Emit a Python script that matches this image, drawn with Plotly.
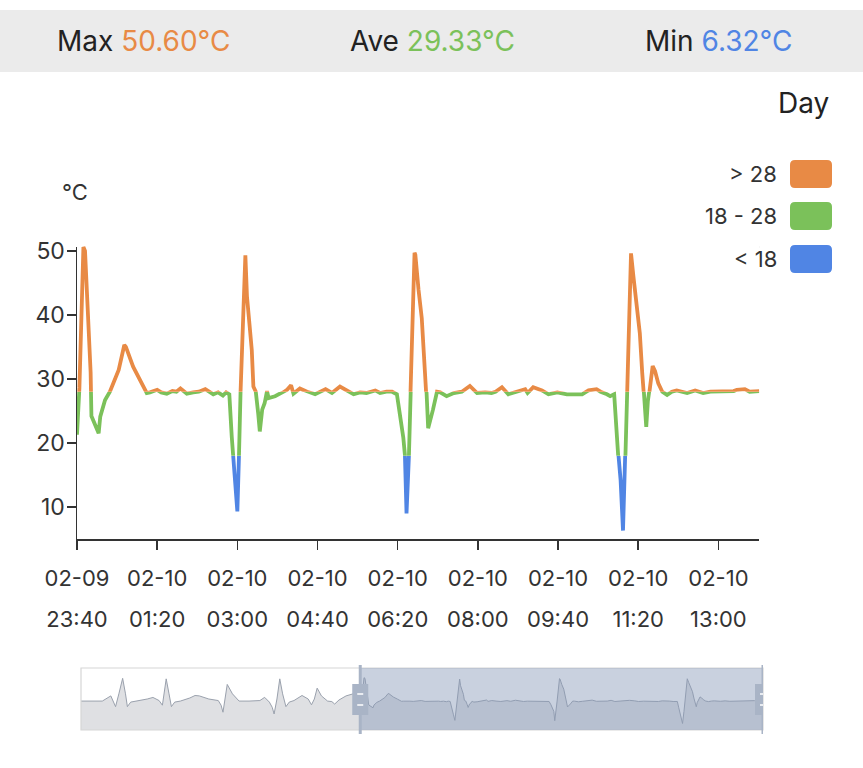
import plotly.graph_objects as go

# ---------------- data ----------------
times = [
    "2024-02-09 13:50", "2024-02-09 14:10", "2024-02-09 14:35", "2024-02-09 14:53", "2024-02-09 15:00",
    "2024-02-09 15:03", "2024-02-09 15:10", "2024-02-09 15:18", "2024-02-09 15:24", "2024-02-09 15:28",
    "2024-02-09 15:35", "2024-02-09 15:50", "2024-02-09 16:10", "2024-02-09 16:22", "2024-02-09 16:35",
    "2024-02-09 16:42", "2024-02-09 16:50", "2024-02-09 16:56", "2024-02-09 17:01", "2024-02-09 17:08",
    "2024-02-09 17:20", "2024-02-09 17:40", "2024-02-09 17:51", "2024-02-09 18:00", "2024-02-09 18:20",
    "2024-02-09 18:40", "2024-02-09 18:46", "2024-02-09 18:50", "2024-02-09 18:54", "2024-02-09 18:59",
    "2024-02-09 19:10", "2024-02-09 19:24", "2024-02-09 19:45", "2024-02-09 20:08", "2024-02-09 20:18",
    "2024-02-09 20:28", "2024-02-09 20:34", "2024-02-09 20:38", "2024-02-09 20:44", "2024-02-09 20:50",
    "2024-02-09 20:56", "2024-02-09 21:03", "2024-02-09 21:10", "2024-02-09 21:20", "2024-02-09 21:37",
    "2024-02-09 21:50", "2024-02-09 21:57", "2024-02-09 22:03", "2024-02-09 22:09", "2024-02-09 22:18",
    "2024-02-09 22:31", "2024-02-09 22:40", "2024-02-09 22:46", "2024-02-09 22:55", "2024-02-09 23:10",
    "2024-02-09 23:25", "2024-02-09 23:35",
    "2024-02-09 23:40", "2024-02-09 23:43", "2024-02-09 23:48", "2024-02-09 23:50", "2024-02-09 23:53",
    "2024-02-09 23:55", "2024-02-09 23:57", "2024-02-09 23:58",
    "2024-02-10 00:07", "2024-02-10 00:09", "2024-02-10 00:15", "2024-02-10 00:21", "2024-02-10 00:32",
    "2024-02-10 00:39", "2024-02-10 00:41", "2024-02-10 00:50", "2024-02-10 00:59", "2024-02-10 01:07",
    "2024-02-10 01:11", "2024-02-10 01:20", "2024-02-10 01:25", "2024-02-10 01:32", "2024-02-10 01:39",
    "2024-02-10 01:44", "2024-02-10 01:49", "2024-02-10 01:57", "2024-02-10 02:05", "2024-02-10 02:12",
    "2024-02-10 02:20", "2024-02-10 02:26", "2024-02-10 02:30", "2024-02-10 02:36", "2024-02-10 02:42",
    "2024-02-10 02:46", "2024-02-10 02:50", "2024-02-10 02:53", "2024-02-10 02:55", "2024-02-10 02:57",
    "2024-02-10 03:00", "2024-02-10 03:02", "2024-02-10 03:04", "2024-02-10 03:10", "2024-02-10 03:12",
    "2024-02-10 03:15", "2024-02-10 03:18", "2024-02-10 03:20", "2024-02-10 03:23", "2024-02-10 03:26",
    "2024-02-10 03:28", "2024-02-10 03:31", "2024-02-10 03:34", "2024-02-10 03:37", "2024-02-10 03:39",
    "2024-02-10 03:47", "2024-02-10 03:56", "2024-02-10 04:02", "2024-02-10 04:07", "2024-02-10 04:10",
    "2024-02-10 04:18", "2024-02-10 04:27", "2024-02-10 04:37", "2024-02-10 04:50", "2024-02-10 04:58",
    "2024-02-10 05:08", "2024-02-10 05:17", "2024-02-10 05:25", "2024-02-10 05:33", "2024-02-10 05:41",
    "2024-02-10 05:52", "2024-02-10 05:58", "2024-02-10 06:06", "2024-02-10 06:13", "2024-02-10 06:19",
    "2024-02-10 06:23", "2024-02-10 06:27", "2024-02-10 06:29", "2024-02-10 06:31", "2024-02-10 06:34",
    "2024-02-10 06:36", "2024-02-10 06:41", "2024-02-10 06:42", "2024-02-10 06:46", "2024-02-10 06:50",
    "2024-02-10 06:54", "2024-02-10 06:56", "2024-02-10 06:58", "2024-02-10 07:04", "2024-02-10 07:09",
    "2024-02-10 07:13", "2024-02-10 07:21", "2024-02-10 07:30", "2024-02-10 07:40", "2024-02-10 07:50",
    "2024-02-10 07:59", "2024-02-10 08:09", "2024-02-10 08:17", "2024-02-10 08:22", "2024-02-10 08:30",
    "2024-02-10 08:38", "2024-02-10 08:49", "2024-02-10 08:59", "2024-02-10 09:02", "2024-02-10 09:09",
    "2024-02-10 09:20", "2024-02-10 09:28", "2024-02-10 09:39", "2024-02-10 09:51", "2024-02-10 10:10",
    "2024-02-10 10:18", "2024-02-10 10:28", "2024-02-10 10:33", "2024-02-10 10:41", "2024-02-10 10:45",
    "2024-02-10 10:50", "2024-02-10 10:53", "2024-02-10 10:55", "2024-02-10 10:58", "2024-02-10 11:01",
    "2024-02-10 11:04", "2024-02-10 11:06", "2024-02-10 11:11", "2024-02-10 11:14", "2024-02-10 11:18",
    "2024-02-10 11:22", "2024-02-10 11:25", "2024-02-10 11:27", "2024-02-10 11:30", "2024-02-10 11:32",
    "2024-02-10 11:34", "2024-02-10 11:38", "2024-02-10 11:41", "2024-02-10 11:45", "2024-02-10 11:50",
    "2024-02-10 11:56", "2024-02-10 12:02", "2024-02-10 12:08", "2024-02-10 12:21", "2024-02-10 12:31",
    "2024-02-10 12:41", "2024-02-10 12:50", "2024-02-10 13:06", "2024-02-10 13:19", "2024-02-10 13:23",
    "2024-02-10 13:33", "2024-02-10 13:39", "2024-02-10 13:51",
]

temps = [
    28.0, 27.8, 28.0, 33.0, 26.0,
    22.6, 35.0, 50.0, 35.0, 22.6,
    27.0, 28.0, 30.0, 31.5, 28.5,
    24.0, 49.5, 35.0, 22.6, 27.0,
    28.0, 31.0, 33.4, 33.0, 30.0,
    28.5, 24.0, 17.2, 30.0, 44.1,
    35.0, 28.0, 28.0, 28.5, 31.6,
    27.0, 22.0, 15.5, 30.0, 49.5,
    35.0, 22.6, 27.0, 28.5, 33.4,
    30.0, 24.4, 30.0, 40.5, 33.0,
    28.0, 27.5, 25.1, 29.0, 33.0,
    35.0, 34.0,
    21.3, 28.6, 50.6, 50.0, 40.8,
    34.5, 31.0, 24.2,
    21.5, 24.1, 26.7, 28.0, 31.4,
    35.3, 35.0, 31.9, 29.8, 27.8,
    27.9, 28.3, 27.9, 27.7, 28.1,
    28.0, 28.5, 27.7, 27.9, 28.0,
    28.4, 27.9, 27.6, 27.9, 27.4,
    27.9, 27.6, 21.0, 18.0, 14.7,
    9.3, 17.9, 28.0, 49.3, 42.9,
    38.7, 34.5, 28.8, 28.0, 24.6,
    21.8, 25.2, 26.2, 28.1, 27.0,
    27.3, 27.8, 28.3, 29.0, 27.7,
    28.5, 28.0, 27.6, 28.4, 27.8,
    28.8, 28.1, 27.6, 27.9, 27.8,
    28.2, 27.8, 28.0, 28.0, 27.6,
    24.4, 20.8, 18.1, 9.0, 18.0,
    28.0, 49.7, 49.4, 43.9, 39.5,
    31.0, 27.8, 22.3, 25.2, 28.0,
    27.9, 27.3, 27.8, 28.0, 28.9,
    27.8, 27.9, 27.8, 28.0, 28.7,
    27.6, 28.0, 28.4, 27.8, 28.7,
    28.2, 27.6, 27.9, 27.6, 27.6,
    28.2, 28.4, 28.0, 27.6, 27.3,
    27.6, 21.5, 18.0, 14.2, 6.32,
    17.9, 28.0, 49.6, 46.0, 41.8,
    37.1, 30.9, 28.0, 22.5, 26.5,
    28.0, 32.0, 31.2, 29.3, 28.0,
    27.5, 28.0, 28.2, 27.8, 28.2,
    27.8, 28.0, 28.0, 28.1, 28.3,
    28.4, 28.0, 28.1,
]

# visible window of the main chart (data-zoom selection)
window_start = "2024-02-09 23:40"
window_end = "2024-02-10 13:51"

# header statistics as printed
stat_labels = ["Max", "Ave", "Min"]
stat_values = ["50.60°C", "29.33°C", "6.32°C"]

# visual-map pieces
piece_labels = ["> 28", "18 - 28", "< 18"]

# ---------------- styling ----------------
ORANGE = "#E88A45"
GREEN = "#7BC15A"
BLUE = "#5085E4"
piece_colors = [ORANGE, GREEN, BLUE]
FONT = "Inter"
TXT = "#333333"

W, H = 863, 768
PL, PR, PT, PB = 77, 766, 240, 736        # paper extents in px


def fx(p):
    return (p - PL) / (PR - PL)


def fy(p):
    return (PB - p) / (PB - PT)


# main plot area (px)
MX0, MX1 = 77, 759.3
MY_TOP, MY_BOT = 247, 539
Y_MIN, Y_MAX = 5.0, 50.6


def vpix(v):
    return MY_BOT - (v - Y_MIN) / (Y_MAX - Y_MIN) * (MY_BOT - MY_TOP)


def pix2v(p):
    return Y_MIN + (MY_BOT - p) / (MY_BOT - MY_TOP) * (Y_MAX - Y_MIN)


fig = go.Figure()

# invisible traces to anchor main subplot and the second label axis
fig.add_trace(go.Scatter(x=times, y=temps, mode="none", hoverinfo="skip",
                         showlegend=False, xaxis="x", yaxis="y"))
fig.add_trace(go.Scatter(x=times, y=temps, mode="none", hoverinfo="skip",
                         showlegend=False, xaxis="x3", yaxis="y"))

# band subplots: same line clipped into each value band
band_axes = ["y2", "y5", "y6"]     # blue, green, orange
band_cols = [BLUE, GREEN, ORANGE]
for ax, col in zip(band_axes, band_cols):
    fig.add_trace(go.Scatter(x=times, y=temps, mode="lines",
                             line=dict(color=col, width=3.8),
                             hoverinfo="skip", showlegend=False,
                             xaxis="x", yaxis=ax))

# slider thumbnail
fig.add_trace(go.Scatter(x=times, y=temps, mode="lines",
                         line=dict(color="#9aa1ad", width=1),
                         fill="tozeroy", fillcolor="#dfe0e3",
                         hoverinfo="skip", showlegend=False,
                         xaxis="x2", yaxis="y4"))

main_dom_y = [fy(MY_BOT), fy(MY_TOP)]
xdom = [fx(MX0), fx(MX1)]
d18 = fy(vpix(18))
d28 = fy(vpix(28))

axis_common = dict(fixedrange=True)
DT = 100 * 60 * 1000

fig.update_layout(
    width=W, height=H,
    margin=dict(l=PL, r=W - PR, t=PT, b=H - PB, pad=0),
    paper_bgcolor="white", plot_bgcolor="white",
    font=dict(family=FONT, color=TXT),
    showlegend=False,
    xaxis=dict(domain=xdom, type="date", range=[window_start, window_end],
               anchor="y", tick0=window_start, dtick=DT,
               tickformat="%m-%d", ticks="outside", ticklen=9, tickwidth=1.5,
               tickcolor="#333", showline=True, linecolor="#333", linewidth=1.5,
               showgrid=False, zeroline=False, ticklabelstandoff=10,
               tickfont=dict(size=22, color=TXT, family=FONT), **axis_common),
    xaxis3=dict(overlaying="x", matches="x", type="date", anchor="y",
                range=[window_start, window_end],
                tick0=window_start, dtick=DT, tickformat="%H:%M",
                ticks="outside", ticklen=9, tickcolor="rgba(0,0,0,0)",
                showline=False, showgrid=False, zeroline=False,
                ticklabelstandoff=52, side="bottom",
                tickfont=dict(size=22, color=TXT, family=FONT), **axis_common),
    yaxis=dict(domain=main_dom_y, range=[Y_MIN, Y_MAX], anchor="x",
               tick0=0, dtick=10, ticks="outside", ticklen=9, tickwidth=1.5,
               tickcolor="#333", showline=True, linecolor="#333", linewidth=1.5,
               showgrid=True, gridcolor="#cfcfcf", gridwidth=1.3, zeroline=False,
               ticklabelstandoff=-3,
               tickfont=dict(size=23, color=TXT, family=FONT), **axis_common),
    yaxis2=dict(domain=[main_dom_y[0], d18], range=[Y_MIN, 18], anchor="x",
                visible=False, **axis_common),
    yaxis5=dict(domain=[d18, d28], range=[18, 28], anchor="x",
                visible=False, **axis_common),
    yaxis6=dict(domain=[d28, 1.0], range=[28, pix2v(PT)], anchor="x",
                visible=False, **axis_common),
    xaxis2=dict(domain=[fx(81), fx(763)], type="date",
                range=[times[0], times[-1]], anchor="y4", visible=False,
                **axis_common),
    yaxis4=dict(domain=[fy(730), fy(668)], range=[0, 60], anchor="x2",
                visible=False, **axis_common),
)

shapes = []
# top grid line at axis max
shapes.append(dict(type="line", xref="x domain", yref="y domain", x0=0, x1=1,
                   y0=1, y1=1, line=dict(color="#cfcfcf", width=1.3), layer="below"))
# header band
shapes.append(dict(type="rect", xref="paper", yref="paper", x0=fx(0), x1=fx(W),
                   y0=fy(72), y1=fy(10), fillcolor="#ebebeb", line=dict(width=0),
                   layer="below"))


def rrect(x0, y0, x1, y1, r):
    # rounded rect in px -> paper path
    pts = [
        f"M {fx(x0 + r)},{fy(y0)}",
        f"L {fx(x1 - r)},{fy(y0)}",
        f"Q {fx(x1)},{fy(y0)} {fx(x1)},{fy(y0 + r)}",
        f"L {fx(x1)},{fy(y1 - r)}",
        f"Q {fx(x1)},{fy(y1)} {fx(x1 - r)},{fy(y1)}",
        f"L {fx(x0 + r)},{fy(y1)}",
        f"Q {fx(x0)},{fy(y1)} {fx(x0)},{fy(y1 - r)}",
        f"L {fx(x0)},{fy(y0 + r)}",
        f"Q {fx(x0)},{fy(y0)} {fx(x0 + r)},{fy(y0)} Z",
    ]
    return " ".join(pts)


legend_rows = [174, 216, 259]
for row, col in zip(legend_rows, piece_colors):
    shapes.append(dict(type="path", xref="paper", yref="paper",
                       path=rrect(790, row - 14, 832, row + 14, 5),
                       fillcolor=col, line=dict(width=0)))

# slider decorations
HANDLE = "#a9b4c6"
SL_TOP, SL_BOT = 668, 730


def sy(p):
    return (SL_BOT - p) / (SL_BOT - SL_TOP)


shapes.append(dict(type="rect", xref="x2 domain", yref="y4 domain", x0=0, x1=1,
                   y0=0, y1=1, fillcolor="rgba(0,0,0,0)",
                   line=dict(color="#d6d6d6", width=1.2), layer="above"))
shapes.append(dict(type="rect", xref="x2", yref="y4 domain", x0=window_start,
                   x1=window_end, y0=0, y1=1, fillcolor="rgba(135,152,185,0.45)",
                   line=dict(width=0), layer="above"))
for anchor in [window_start, window_end]:
    shapes.append(dict(type="line", xref="x2", yref="y4 domain", x0=anchor,
                       x1=anchor, y0=sy(734), y1=sy(665),
                       line=dict(color=HANDLE, width=3), layer="above"))
    shapes.append(dict(type="rect", xref="x2", xsizemode="pixel", xanchor=anchor,
                       x0=-8, x1=8, yref="y4 domain", y0=sy(715), y1=sy(684),
                       fillcolor=HANDLE, line=dict(width=0), layer="above"))
    for gy in [694, 705]:
        shapes.append(dict(type="line", xref="x2", xsizemode="pixel", xanchor=anchor,
                           x0=-3, x1=3, yref="y4 domain", y0=sy(gy), y1=sy(gy),
                           line=dict(color="white", width=1.5), layer="above"))

fig.update_layout(shapes=shapes)

ann = []
stat_x = [143, 432, 719]
for lab, val, col, sx in zip(stat_labels, stat_values, piece_colors, stat_x):
    ann.append(dict(xref="paper", yref="paper", x=fx(sx), y=fy(41),
                    text=f"{lab} <span style='color:{col}'>{val}</span>",
                    showarrow=False, xanchor="center", yanchor="middle",
                    font=dict(size=28, color="#222", family=FONT)))
ann.append(dict(xref="paper", yref="paper", x=fx(831), y=fy(103), text="Day",
                showarrow=False, xanchor="right", yanchor="middle",
                font=dict(size=28, color="#222", family=FONT)))
for row, lab in zip(legend_rows, piece_labels):
    ann.append(dict(xref="paper", yref="paper", x=fx(779), y=fy(row), text=lab,
                    showarrow=False, xanchor="right", yanchor="middle",
                    font=dict(size=22, color=TXT, family=FONT)))
ann.append(dict(xref="paper", yref="paper", x=fx(75), y=fy(192), text="°C",
                showarrow=False, xanchor="center", yanchor="middle",
                font=dict(size=22, color=TXT, family=FONT)))
fig.update_layout(annotations=ann)

fig.write_html("out.html", config=dict(displayModeBar=False, staticPlot=True),
               post_script="document.body.style.margin='0';")
